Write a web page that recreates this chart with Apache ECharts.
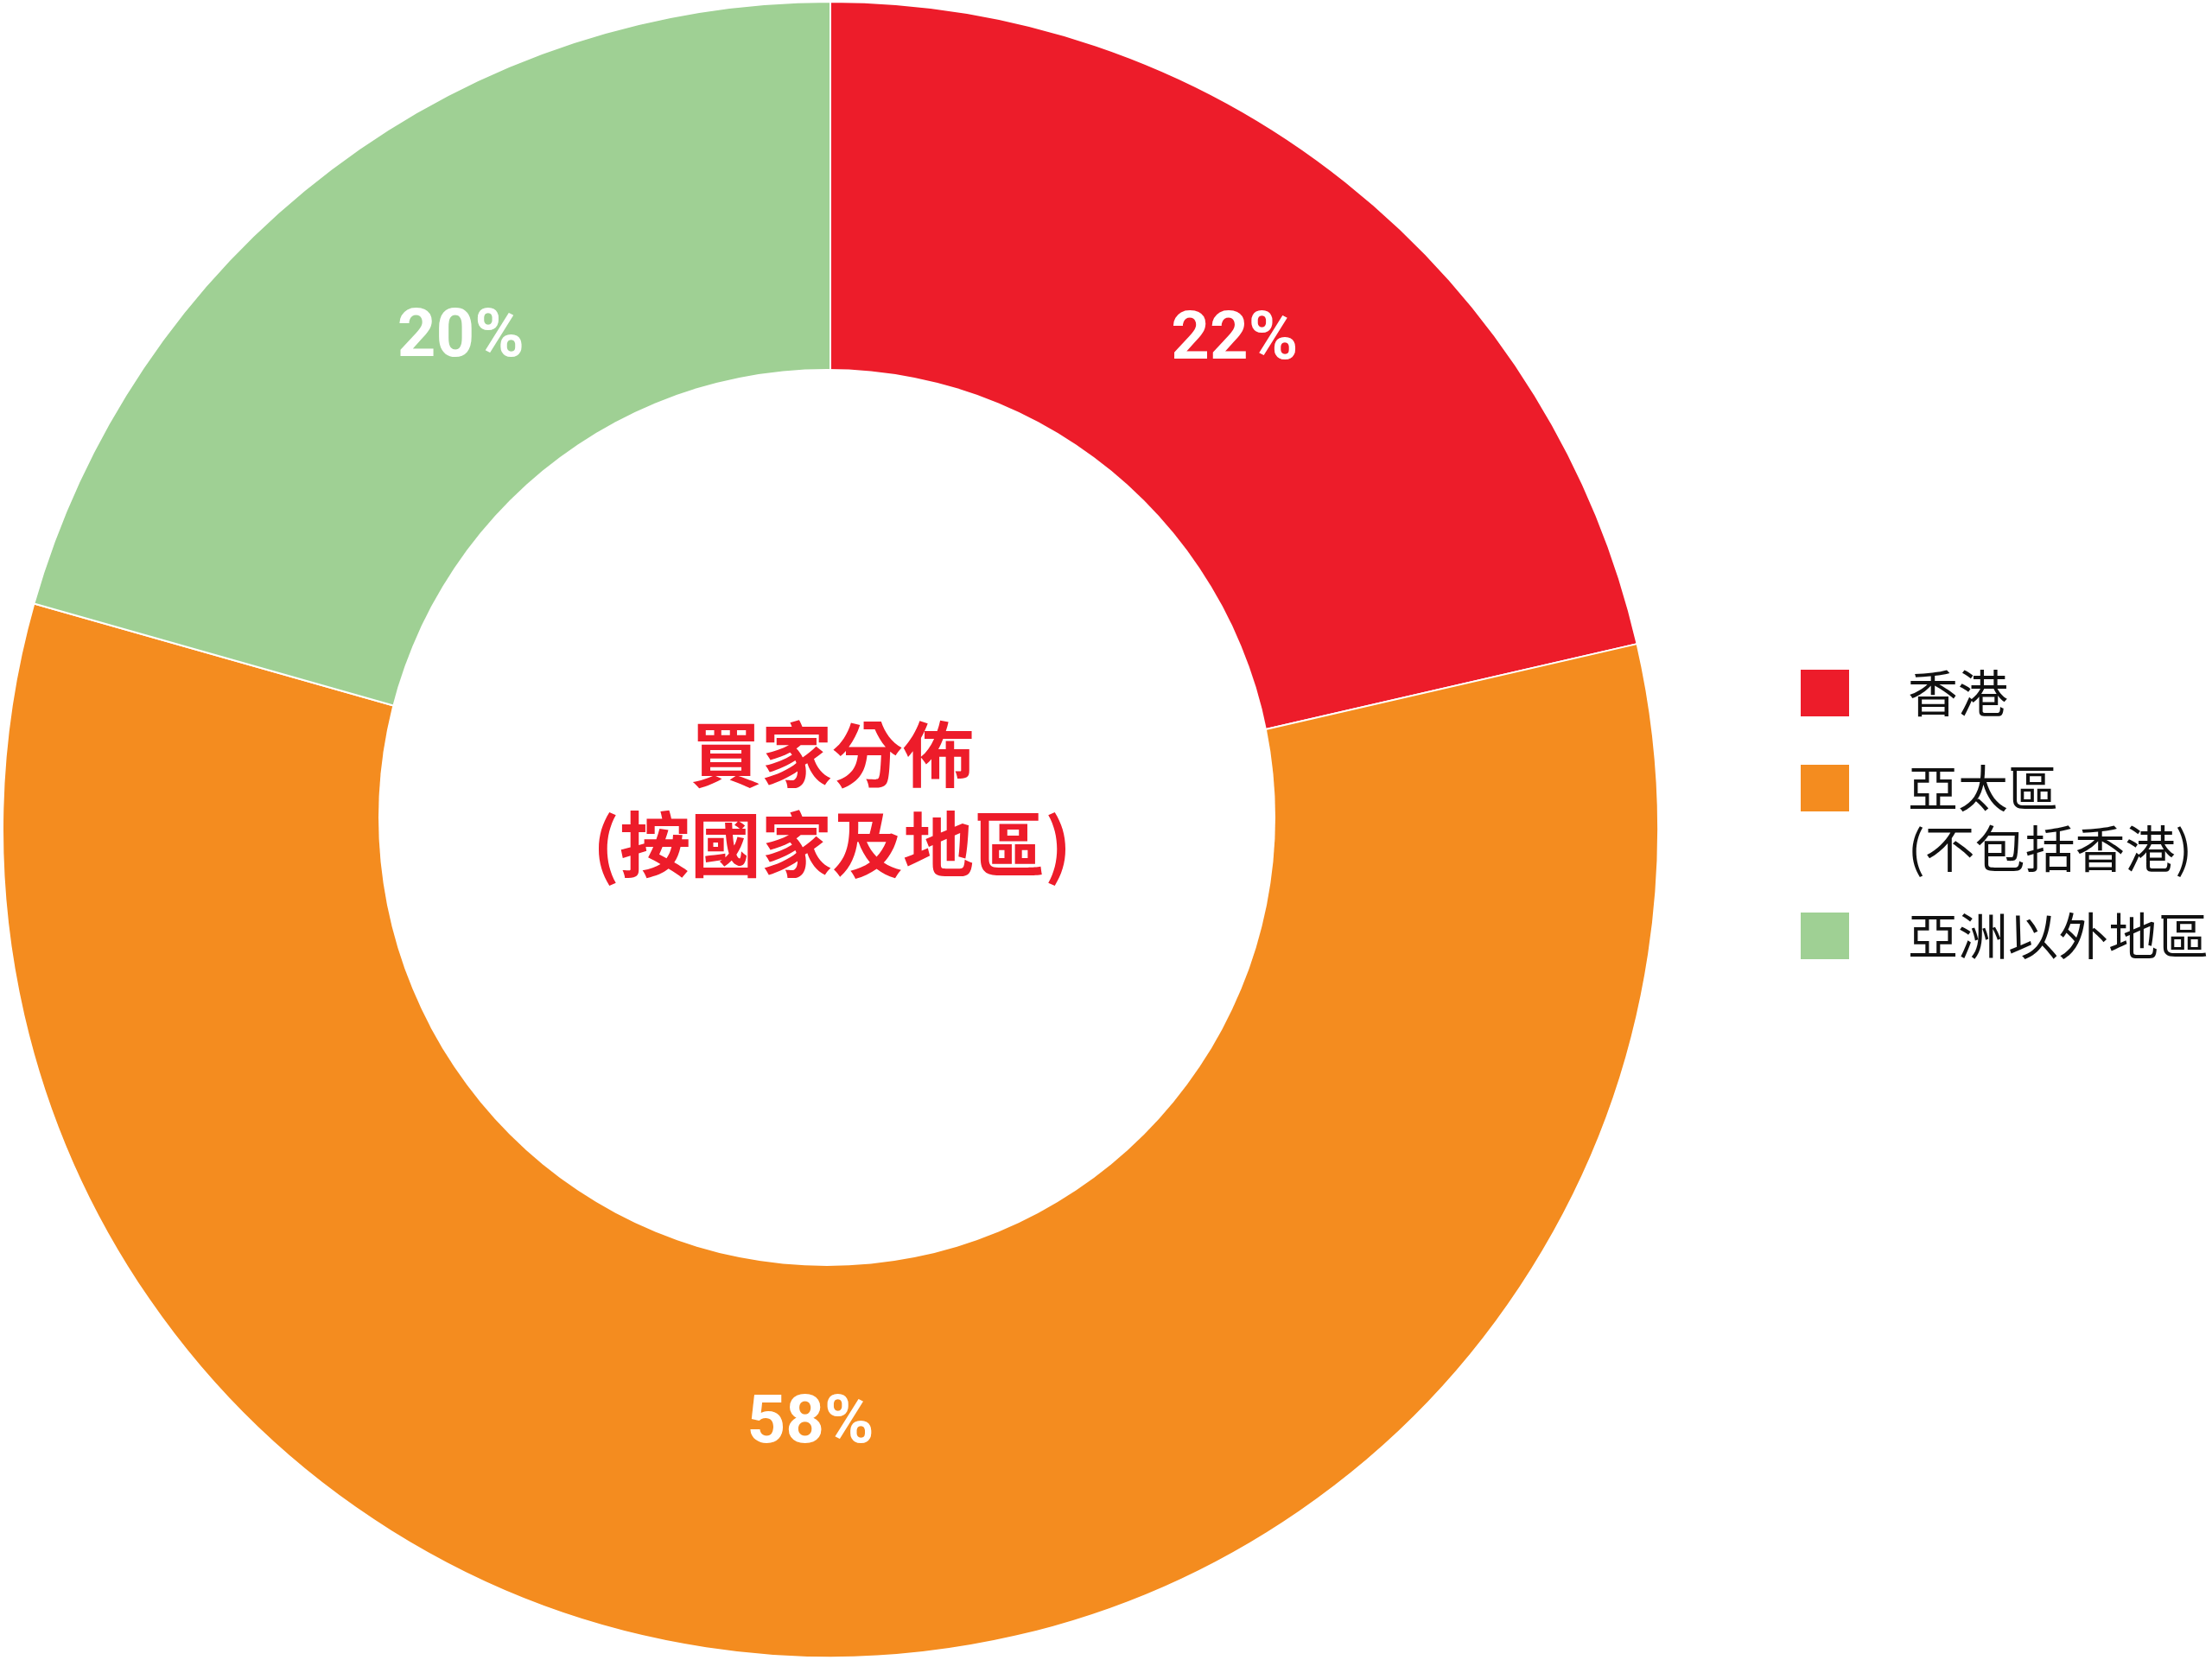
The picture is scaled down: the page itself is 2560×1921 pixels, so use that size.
<!DOCTYPE html>
<html>
<head>
<meta charset="utf-8">
<script src="https://cdn.jsdelivr.net/npm/echarts@6/dist/echarts.min.js"></script>
<style>
html,body{margin:0;padding:0;background:#fff;}
#chart{width:2560px;height:1921px;}
</style>
</head>
<body>
<div id="chart"></div>
<script>
// Data
var categories = ['香港', '亞太區\n(不包括香港)', '亞洲以外地區'];
var shares = [21.4, 58.0, 20.6];           // slice sizes
var shareLabels = ['22%', '58%', '20%'];   // printed labels
var colors = ['#ED1C2A', '#F48C1F', '#9FD094'];
var centerTitle = '買家分佈\n(按國家及地區)';

var chart = echarts.init(document.getElementById('chart'), null, {renderer: 'canvas'});

var data = categories.map(function (c, i) {
  return {name: c, value: shares[i], itemStyle: {color: colors[i]}};
});

var cjk = '"Noto Sans CJK TC", "Noto Sans CJK SC", sans-serif';

function makeLegend(i, top, leadBlank) {
  return {
    show: true,
    orient: 'vertical',
    left: 2082,
    top: top,
    padding: 0,
    itemWidth: 58,
    itemHeight: 56,
    icon: 'rect',
    selectedMode: false,
    data: [categories[i]],
    formatter: function (name) { return leadBlank ? ' \n' + name : name; },
    textStyle: {
      fontFamily: cjk,
      fontSize: 58,
      lineHeight: 70,
      color: '#111',
      padding: [0, 0, 0, 62]
    }
  };
}

// per-label nudges (style only)
var labelNudge = [{dx: 22, dy: -4}, {dx: -5, dy: -26}, {dx: 4, dy: 4}];

chart.setOption({
  backgroundColor: '#fff',
  animation: false,
  title: {
    text: centerTitle,
    left: 958,
    top: 816,
    textAlign: 'center',
    z: 100,
    textStyle: {
      fontFamily: cjk,
      fontWeight: 'bold',
      fontSize: 82,
      lineHeight: 104,
      color: '#ED1C2A'
    }
  },
  legend: [
    makeLegend(0, 767, false),
    makeLegend(1, 807, true),
    makeLegend(2, 1048, false)
  ],
  graphic: [{
    type: 'circle',
    z: 50,
    silent: true,
    shape: {cx: 957, cy: 946, r: 519},
    style: {fill: '#fff'}
  }],
  series: [{
    type: 'pie',
    center: [961, 960],
    radius: [468, 958],
    startAngle: 90,
    clockwise: true,
    avoidLabelOverlap: false,
    itemStyle: {borderColor: '#fff', borderWidth: 2},
    label: {
      show: true,
      position: 'inside',
      formatter: function (p) { return shareLabels[p.dataIndex]; },
      color: '#fff',
      fontFamily: 'Roboto, sans-serif',
      fontWeight: 'bold',
      fontSize: 78
    },
    labelLayout: function (p) { return labelNudge[p.dataIndex]; },
    labelLine: {show: false},
    emphasis: {disabled: true},
    data: data
  }]
});
</script>
</body>
</html>
